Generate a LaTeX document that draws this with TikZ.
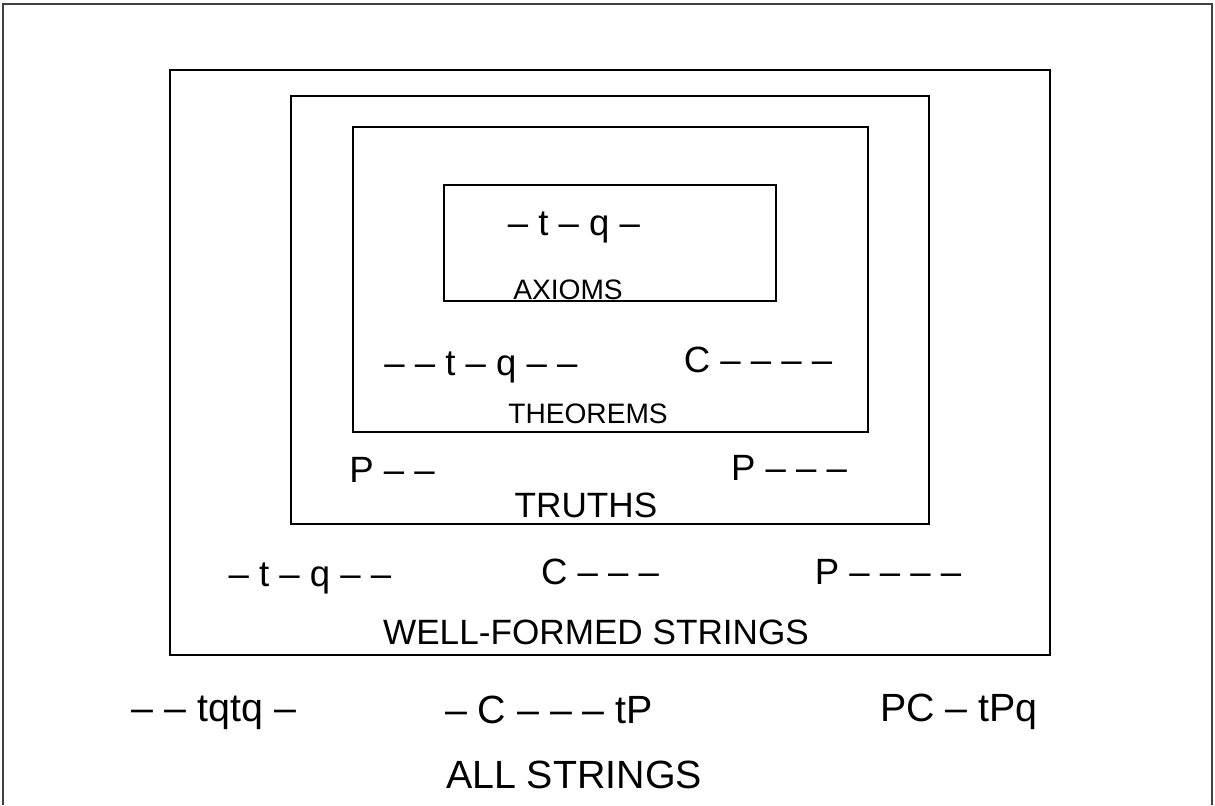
\documentclass[tikz,border=0pt]{standalone}
\usepackage{fontspec}
\setmainfont{Liberation Sans}
\usetikzlibrary{positioning}

\begin{document}
\begin{tikzpicture}[x=0.025cm, y=-0.025cm,
    setbox/.style={draw=black, line width=1.2pt},
    str/.style={inner sep=0pt, font=\fontsize{26}{28}\selectfont},
    bigstr/.style={inner sep=0pt, font=\fontsize{28}{30}\selectfont},
    setname/.style={inner sep=0pt, font=\fontsize{#1}{#1}\selectfont}]
    \useasboundingbox (0,0) rectangle (1215,805);

    % Outer frame (all strings)
    \draw[line width=1.6pt, black!75] (3,805) -- (3,4) -- (1212,4) -- (1212,805);

    % Nested sets
    \draw[setbox] (170,70) rectangle (1050,655);   % well-formed strings
    \draw[setbox] (291,96) rectangle (929,524);    % truths
    \draw[setbox] (353,127) rectangle (868,432);   % theorems
    \draw[setbox] (444,185) rectangle (776,301);   % axioms

    % Axioms
    \node[str] (ax1) at (574,227) {-- t -- q --};
    \node[setname=20] (axioms) at (568,290) {AXIOMS};

    % Theorems
    \node[str] (th1) at (481,367) {-- -- t -- q -- --};
    \node[str] (th2) at (758,360) {C -- -- -- --};
    \node[setname=20] (theorems) at (588,414) {THEOREMS};

    % Truths
    \node[str] (tr1) at (392,470) {P -- --};
    \node[str] (tr2) at (789,468) {P -- -- --};
    \node[setname=25] (truths) at (586,505) {TRUTHS};

    % Well-formed strings
    \node[str] (wf1) at (310,578) {-- t -- q -- --};
    \node[str] (wf2) at (600,572) {C -- -- --};
    \node[str] (wf3) at (888,572) {P -- -- -- --};
    \node[setname=25] (wellformed) at (596,632) {WELL-FORMED STRINGS};

    % All strings
    \node[bigstr] (al1) at (214,713) {-- -- tqtq --};
    \node[bigstr] (al2) at (549,710) {-- C -- -- -- tP};
    \node[bigstr] (al3) at (959,712) {PC -- tPq};
    \node[setname=28] (allstrings) at (574,775) {ALL STRINGS};
\end{tikzpicture}
\end{document}
